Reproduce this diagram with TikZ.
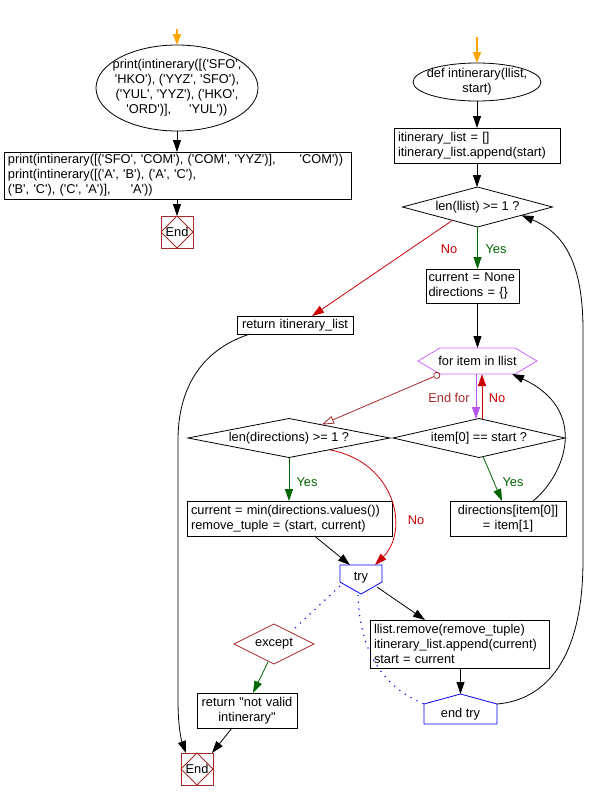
\documentclass[tikz,border=0pt]{standalone}
\usepackage{fontspec}
\newfontfamily\diafont{Liberation Sans}
\usetikzlibrary{arrows.meta,shapes.geometric,calc}
\definecolor{corange}{HTML}{FFA500}
\definecolor{cred}{HTML}{CC0000}
\definecolor{cgreen}{HTML}{006600}
\definecolor{cpurple}{HTML}{CC66FF}
\definecolor{cpurarrow}{HTML}{BB55EE}
\definecolor{cbrown}{HTML}{A52A2A}
\definecolor{cblue}{HTML}{0000FF}
\begin{document}
\begin{tikzpicture}[x=1pt,y=-1pt,
  every node/.style={font=\diafont\fontsize{12.8pt}{15pt}\selectfont, inner sep=0pt, outer sep=0pt},
  lbox/.style={draw, rectangle, inner xsep=4pt, inner ysep=0pt, align=left},
  cbox/.style={draw, rectangle, inner xsep=4pt, inner ysep=0pt, align=center},
  dia/.style={draw, diamond, inner sep=0pt},
  ell/.style={draw, ellipse, inner sep=0pt},
  endbox/.style={draw=cbrown, rectangle, minimum width=32pt, minimum height=32pt},
  arr/.style={-{Triangle[length=12pt,width=8pt]}, line width=0.8pt},
  oarr/.style={-{Triangle[length=11pt,width=8pt]}, line width=1.6pt, corange},
  dots/.style={cblue, line width=1.1pt, dash pattern=on 1.2pt off 5.5pt},
  lab/.style={font=\diafont\fontsize{12.8pt}{15pt}\selectfont},
  line width=0.8pt]
\fill[white] (0,0) rectangle (590,801);
\useasboundingbox (0,0) rectangle (590,801);

% ---------- left column ----------
\coordinate (s1) at (177,29);
\node[ell, minimum width=162pt, minimum height=86pt,
  label={[align=center]center:{print(intinerary([('SFO',\\'HKO'), ('YYZ', 'SFO'),\\('YUL', 'YYZ'), ('HKO',\\'ORD')],\hspace{18pt}'YUL'))}}] (e1) at (177,88) {};
\node[lbox, text width=339pt, minimum height=47pt] (b1) at (177.5,175.5)
  {print(intinerary([('SFO', 'COM'), ('COM', 'YYZ')],\hspace{24pt}'COM'))\\print(intinerary([('A', 'B'), ('A', 'C'),\\('B', 'C'), ('C', 'A')],\hspace{20pt}'A'))};
\node[endbox] (end1) at (177,232) {End};
\draw[cbrown] (end1.north) -- (end1.east) -- (end1.south) -- (end1.west) -- cycle;

\draw[oarr] (s1) -- (e1.north);
\draw[arr] (e1.south) -- (e1.south |- b1.north);
\draw[arr] (end1.north |- b1.south) -- (end1.north);

% ---------- right column ----------
\coordinate (s2) at (477,37);
\node[ell, minimum width=128pt, minimum height=38pt,
  label={[align=center]center:{def intinerary(llist,\\start)}}] (e2) at (477,82) {};
\node[lbox, text width=158pt, minimum height=35pt] (b2) at (477,145.5)
  {itinerary\_list = []\\itinerary\_list.append(start)};
\node[dia, minimum width=150pt, minimum height=40pt,
  label={center:{len(llist) >= 1 ?}}] (d1) at (477.5,207) {};
\node[lbox, inner xsep=2.5pt, text width=88pt, minimum height=34pt] (b3) at (472.5,286)
  {current = None\\directions = \{\}};
\node[cbox, text width=108pt, minimum height=18pt] (ret1) at (295,325) {return itinerary\_list};

\node[minimum width=119pt, minimum height=26pt] (hx) at (477.5,361) {for item in llist};
\draw[cpurple] (hx.west) -- ($(hx.north west)+(22,0)$) -- ($(hx.north east)+(-22,0)$) -- (hx.east)
  -- ($(hx.south east)+(-22,0)$) -- ($(hx.south west)+(22,0)$) -- cycle;

\node[dia, minimum width=202pt, minimum height=39pt,
  label={center:{len(directions) >= 1 ?}}] (d2) at (289,438) {};
\node[dia, minimum width=172pt, minimum height=39pt,
  label={center:{item[0] == start ?}}] (d3) at (479,438) {};
\node[lbox, text width=197pt, minimum height=35pt] (b4) at (289.5,518.5)
  {current = min(directions.values())\\remove\_tuple = (start, current)};
\node[cbox, text width=108pt, minimum height=35pt] (b5) at (508,518.5)
  {directions[item[0]]\\= item[1]};

\node[minimum width=42pt, minimum height=26pt] (tr) at (361,578) {try};
\draw[cblue] (tr.north west) -- (tr.north east) -- ($(tr.north east)+(0,17)$) -- ($(tr.south)+(0,3)$)
  -- ($(tr.north west)+(0,17)$) -- cycle;

\node[lbox, text width=171pt, minimum height=48pt] (b6) at (459.5,644)
  {llist.remove(remove\_tuple)\\itinerary\_list.append(current)\\start = current};
\node[minimum width=73pt, minimum height=20pt] (et) at (460.5,714) {end try};
\draw[cblue] (et.north west) -- ($(et.north)+(0,-10)$) -- (et.north east) -- (et.south east)
  -- (et.south west) -- cycle;

\node[dia, draw=cbrown, minimum width=80pt, minimum height=40pt,
  label={center:{except}}] (exc) at (274,644) {};
\node[cbox, text width=92pt, minimum height=35pt] (ret2) at (247,710.5)
  {return "not valid\\intinerary"};
\node[endbox] (end2) at (197,769) {End};
\draw[cbrown] (end2.north) -- (end2.east) -- (end2.south) -- (end2.west) -- cycle;

% ---------- connectors ----------
\draw[oarr] (s2) -- (e2.north);
\draw[arr] (e2.south) -- (e2.south |- b2.north);
\draw[arr] (b2.south) -- (b2.south |- d1.north);
\draw[arr, cgreen] (d1.south) -- (d1.south |- b3.north);
\node[lab, text=cgreen] (y1) at (496,249) {Yes};
\draw[arr, cred] ($(d1.center)+(-25,13.3)$) -- ($(ret1.north)+(17,0)$);
\node[lab, text=cred] (n1) at (449,249) {No};
\draw[arr] (hx.north |- b3.south) -- (hx.north);
\draw[arr, cpurarrow] ($(hx.south)+(-1.5,0)$) -- ($(hx.south |- d3.north)+(-1.5,0.5)$);
\draw[arr, cred] ($(hx.south |- d3.north)+(4.5,0.5)$) -- ($(hx.south)+(4.5,0)$);
\node[lab, text=cred] (n2) at (497,398) {No};
\draw[cbrown, {Circle[open,length=7pt]}-{Triangle[open,length=12pt,width=8pt]}]
  ($(hx.south west)+(22,0)$) -- ($(d2.center)+(33,-13.5)$);
\node[lab, text=cbrown] (ef) at (449,398) {End for};
\draw[arr, cgreen] (d2.south) -- (d2.south |- b4.north);
\node[lab, text=cgreen] (y2) at (307,482) {Yes};
\draw[arr, cgreen] ($(d3.south)+(4,-1)$) -- ($(b5.north)+(-6,0)$);
\node[lab, text=cgreen] (y3) at (513,482) {Yes};
\draw[arr] ($(b5.north east)+(-33,0)$) .. controls (565,475) and (590,410) .. ($(hx.south east)+(-25,0)$);
\draw[arr] (et.north east) .. controls (545,700) and (583,660) .. (583,560) -- (583,330)
  .. controls (583,260) and (562,232) .. ($(d1.center)+(44,8.3)$);
\draw[arr] ($(b4.south)+(25,0)$) -- ($(tr.north west)+(10,0)$);
\draw[arr, cred] ($(d2.center)+(41,11.9)$) .. controls (395,462) and (410,530) .. ($(tr.north east)+(-7,0)$);
\node[lab, text=cred] (n3) at (416,520) {No};
\draw[arr] ($(tr.east)+(-5,9)$) -- ($(b6.north west)+(55,0)$);
\draw[dots] ($(tr.west)+(0,8)$) -- ($(exc.center)+(21,-16)$);
\draw[dots] ($(tr.south)+(-3,4)$) .. controls (360,660) and (390,690) .. (et.north west);
\draw[arr] (et.north |- b6.south) -- ($(et.north)+(0,-10)$);
\draw[arr, cgreen] ($(exc.center)+(-6,18)$) -- ($(ret2.north)+(6,0)$);
\draw[arr] ($(ret2.south)+(-15,0)$) -- ($(end2.north east)+(-1,0)$);
\draw[arr] ($(ret1.south west)+(13,0)$) .. controls (200,350) and (178,390) .. (178,440) -- (178,700)
  .. controls (178,730) and (182,742) .. ($(end2.north west)+(5,0)$);
\end{tikzpicture}
\end{document}
